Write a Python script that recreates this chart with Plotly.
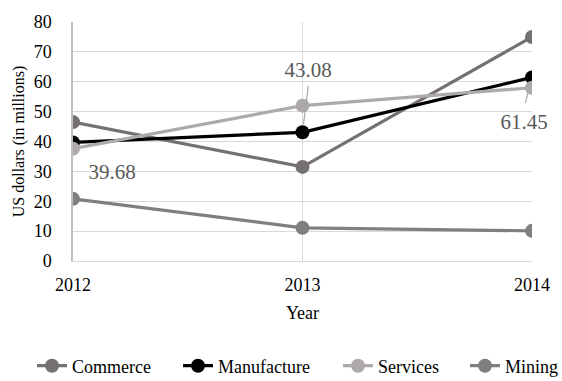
import plotly.graph_objects as go

years = [2012, 2013, 2014]
commerce = [46.5, 31.5, 75.0]
manufacture = [39.68, 43.08, 61.45]
services = [37.6, 52.0, 58.0]
mining = [20.8, 11.1, 10.1]

series = [
    ("Commerce", commerce, "#767171"),
    ("Manufacture", manufacture, "#000000"),
    ("Services", services, "#AEAAAA"),
    ("Mining", mining, "#7F7F7F"),
]

FONT = "Times New Roman, Liberation Serif, serif"
legend_x = [32, 178, 338, 465]

fig = go.Figure()
for i, (name, vals, col) in enumerate(series):
    fig.add_trace(go.Scatter(
        x=years, y=vals, name=name, mode="lines+markers",
        line=dict(color=col, width=3.2),
        marker=dict(color=col, size=14),
        legend="legend" if i == 0 else f"legend{i+1}",
    ))

lab_color = "#595959"
lab_font = dict(family=FONT, size=21, color=lab_color)
# data label texts for Manufacture (text centre offset from the point, px)
lab_offsets = [(39, -30), (5, 62), (-8, -45)]
for xv, yv, (ox, oy) in zip(years, manufacture, lab_offsets):
    fig.add_annotation(x=xv, y=yv, xref="x", yref="y", text=f"{yv:.2f}",
                       showarrow=False, xanchor="center", yanchor="middle",
                       xshift=ox, yshift=oy, font=lab_font,
                       width=52, height=22, borderpad=0)
# leader lines
for xv, yv, (ax, ay, so) in zip(years[1:], manufacture[1:], [(6, -48, 8), (-7, 27, 14)]):
    fig.add_annotation(x=xv, y=yv, text="", showarrow=True, arrowhead=0,
                       arrowwidth=1.2, arrowcolor="#A6A6A6", ax=ax, ay=ay, standoff=so)

layout_legends = {}
for i, lx in enumerate(legend_x):
    key = "legend" if i == 0 else f"legend{i+1}"
    layout_legends[key] = dict(
        orientation="h", x=lx / 562, xanchor="left", xref="container",
        y=1 - 366 / 381, yanchor="middle", yref="container",
        font=dict(family=FONT, size=18, color="#000000"),
        bgcolor="rgba(0,0,0,0)", borderwidth=0,
    )

fig.update_layout(
    width=562, height=381,
    margin=dict(l=73, r=19, t=20, b=120),
    paper_bgcolor="white", plot_bgcolor="white",
    font=dict(family=FONT, size=18, color="#000000"),
    showlegend=True,
    xaxis=dict(
        range=[2012, 2014], tickvals=years, ticktext=[str(y) for y in years],
        showgrid=True, gridcolor="#D9D9D9", gridwidth=1,
        showline=True, linecolor="#D9D9D9", linewidth=1,
        zeroline=False, ticks="", ticklabelstandoff=7,
        title=dict(text="Year", standoff=12, font=dict(family=FONT, size=18)),
        tickfont=dict(family=FONT, size=18),
    ),
    yaxis=dict(
        range=[0, 80], dtick=10,
        showgrid=True, gridcolor="#D9D9D9", gridwidth=1,
        showline=True, linecolor="#BFBFBF", linewidth=1.5,
        zeroline=False, ticks="", ticklabelstandoff=16,
        title=dict(text="US dollars (in millions)", standoff=5, font=dict(family=FONT, size=16)),
        tickfont=dict(family=FONT, size=18),
    ),
    **layout_legends,
)

fig.write_html("out.html")
